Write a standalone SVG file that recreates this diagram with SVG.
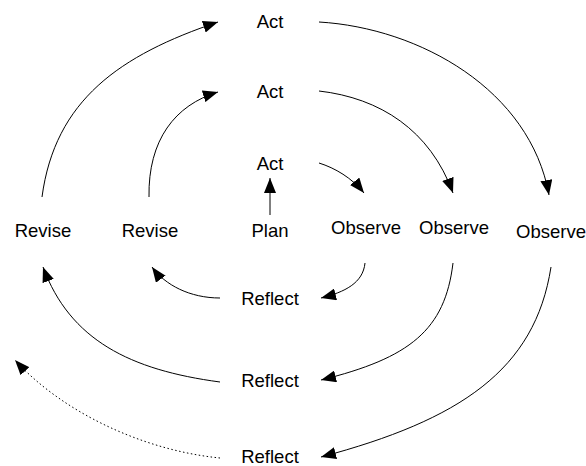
<svg xmlns="http://www.w3.org/2000/svg" width="586" height="466" viewBox="0 0 586 466">
<style>
text{font-family:"Liberation Sans",Arial,sans-serif;font-size:18.5px;fill:#000;text-anchor:middle}
.c{fill:none;stroke:#000;stroke-width:1}
.d{stroke-dasharray:1.5 2.5}
</style>
<defs>
<marker id="ah" markerUnits="userSpaceOnUse" markerWidth="16" markerHeight="12" refX="15" refY="6" orient="auto">
<path d="M0,0 L15,6 L0,12 Z" fill="#000"/>
</marker>
</defs>
<rect width="586" height="466" fill="#fff"/>
<g id="connectors">
<path class="c" marker-end="url(#ah)" d="M270,215 L270,178"/>
<path class="c" marker-end="url(#ah)" d="M319,163 C335,168 352,178 364,193"/>
<path class="c" marker-end="url(#ah)" d="M319,91 C380,98 430,130 453,193"/>
<path class="c" marker-end="url(#ah)" d="M319,22 C420,28 530,90 549,195"/>
<path class="c" marker-end="url(#ah)" d="M42,197 C55,100 120,55 218,22"/>
<path class="c" marker-end="url(#ah)" d="M149,197 C148,140 175,105 218,92"/>
<path class="c" marker-end="url(#ah)" d="M365,263 C363,283 345,292 321,298"/>
<path class="c" marker-end="url(#ah)" d="M453,263 C445,330 410,358 321,380"/>
<path class="c" marker-end="url(#ah)" d="M551,267 C535,370 460,420 321,457"/>
<path class="c" marker-end="url(#ah)" d="M220,298 C190,298 165,285 152,267"/>
<path class="c" marker-end="url(#ah)" d="M220,382 C130,370 70,340 43,267"/>
<path class="c d" marker-end="url(#ah)" d="M220,458 C140,450 60,410 15,360"/>
</g>
<g id="act1"><text x="270" y="28">Act</text></g>
<g id="act2"><text x="270" y="98">Act</text></g>
<g id="act3"><text x="270" y="170">Act</text></g>
<g id="plan"><text x="270" y="237">Plan</text></g>
<g id="revise1"><text x="43" y="237">Revise</text></g>
<g id="revise2"><text x="150" y="237">Revise</text></g>
<g id="observe1"><text x="366" y="234">Observe</text></g>
<g id="observe2"><text x="454" y="234">Observe</text></g>
<g id="observe3"><text x="551" y="238">Observe</text></g>
<g id="reflect1"><text x="270" y="305">Reflect</text></g>
<g id="reflect2"><text x="270" y="387">Reflect</text></g>
<g id="reflect3"><text x="270" y="463">Reflect</text></g>
</svg>
